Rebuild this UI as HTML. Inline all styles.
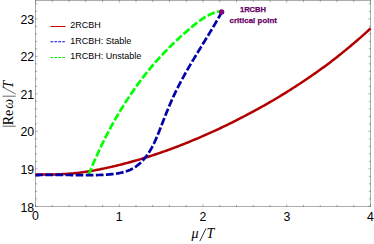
<!DOCTYPE html>
<html><head><meta charset="utf-8"><style>
html,body{margin:0;padding:0;background:#fff;}
svg{display:block;}
text{font-family:"Liberation Sans",sans-serif;}
</style></head><body>
<svg width="374" height="244" viewBox="0 0 374 244">
<rect width="374" height="244" fill="#fff"/>
<rect x="35.5" y="0.5" width="335.0" height="206.0" stroke="#adadad" stroke-width="1" fill="none"/>
<g stroke="#555" stroke-opacity="0.55" stroke-width="0.8" fill="none">
<line x1="35.50" y1="207.0" x2="35.50" y2="204.3"/>
<line x1="35.50" y1="0.0" x2="35.50" y2="2.7"/>
<line x1="52.25" y1="207.0" x2="52.25" y2="204.8"/>
<line x1="52.25" y1="0.0" x2="52.25" y2="2.2"/>
<line x1="69.00" y1="207.0" x2="69.00" y2="204.8"/>
<line x1="69.00" y1="0.0" x2="69.00" y2="2.2"/>
<line x1="85.75" y1="207.0" x2="85.75" y2="204.8"/>
<line x1="85.75" y1="0.0" x2="85.75" y2="2.2"/>
<line x1="102.50" y1="207.0" x2="102.50" y2="204.8"/>
<line x1="102.50" y1="0.0" x2="102.50" y2="2.2"/>
<line x1="119.25" y1="207.0" x2="119.25" y2="204.3"/>
<line x1="119.25" y1="0.0" x2="119.25" y2="2.7"/>
<line x1="136.00" y1="207.0" x2="136.00" y2="204.8"/>
<line x1="136.00" y1="0.0" x2="136.00" y2="2.2"/>
<line x1="152.75" y1="207.0" x2="152.75" y2="204.8"/>
<line x1="152.75" y1="0.0" x2="152.75" y2="2.2"/>
<line x1="169.50" y1="207.0" x2="169.50" y2="204.8"/>
<line x1="169.50" y1="0.0" x2="169.50" y2="2.2"/>
<line x1="186.25" y1="207.0" x2="186.25" y2="204.8"/>
<line x1="186.25" y1="0.0" x2="186.25" y2="2.2"/>
<line x1="203.00" y1="207.0" x2="203.00" y2="204.3"/>
<line x1="203.00" y1="0.0" x2="203.00" y2="2.7"/>
<line x1="219.75" y1="207.0" x2="219.75" y2="204.8"/>
<line x1="219.75" y1="0.0" x2="219.75" y2="2.2"/>
<line x1="236.50" y1="207.0" x2="236.50" y2="204.8"/>
<line x1="236.50" y1="0.0" x2="236.50" y2="2.2"/>
<line x1="253.25" y1="207.0" x2="253.25" y2="204.8"/>
<line x1="253.25" y1="0.0" x2="253.25" y2="2.2"/>
<line x1="270.00" y1="207.0" x2="270.00" y2="204.8"/>
<line x1="270.00" y1="0.0" x2="270.00" y2="2.2"/>
<line x1="286.75" y1="207.0" x2="286.75" y2="204.3"/>
<line x1="286.75" y1="0.0" x2="286.75" y2="2.7"/>
<line x1="303.50" y1="207.0" x2="303.50" y2="204.8"/>
<line x1="303.50" y1="0.0" x2="303.50" y2="2.2"/>
<line x1="320.25" y1="207.0" x2="320.25" y2="204.8"/>
<line x1="320.25" y1="0.0" x2="320.25" y2="2.2"/>
<line x1="337.00" y1="207.0" x2="337.00" y2="204.8"/>
<line x1="337.00" y1="0.0" x2="337.00" y2="2.2"/>
<line x1="353.75" y1="207.0" x2="353.75" y2="204.8"/>
<line x1="353.75" y1="0.0" x2="353.75" y2="2.2"/>
<line x1="370.50" y1="207.0" x2="370.50" y2="204.3"/>
<line x1="370.50" y1="0.0" x2="370.50" y2="2.7"/>
<line x1="35.0" y1="206.35" x2="37.7" y2="206.35"/>
<line x1="371.0" y1="206.35" x2="368.3" y2="206.35"/>
<line x1="35.0" y1="198.85" x2="37.2" y2="198.85"/>
<line x1="371.0" y1="198.85" x2="368.8" y2="198.85"/>
<line x1="35.0" y1="191.35" x2="37.2" y2="191.35"/>
<line x1="371.0" y1="191.35" x2="368.8" y2="191.35"/>
<line x1="35.0" y1="183.85" x2="37.2" y2="183.85"/>
<line x1="371.0" y1="183.85" x2="368.8" y2="183.85"/>
<line x1="35.0" y1="176.35" x2="37.2" y2="176.35"/>
<line x1="371.0" y1="176.35" x2="368.8" y2="176.35"/>
<line x1="35.0" y1="168.85" x2="37.7" y2="168.85"/>
<line x1="371.0" y1="168.85" x2="368.3" y2="168.85"/>
<line x1="35.0" y1="161.35" x2="37.2" y2="161.35"/>
<line x1="371.0" y1="161.35" x2="368.8" y2="161.35"/>
<line x1="35.0" y1="153.85" x2="37.2" y2="153.85"/>
<line x1="371.0" y1="153.85" x2="368.8" y2="153.85"/>
<line x1="35.0" y1="146.35" x2="37.2" y2="146.35"/>
<line x1="371.0" y1="146.35" x2="368.8" y2="146.35"/>
<line x1="35.0" y1="138.85" x2="37.2" y2="138.85"/>
<line x1="371.0" y1="138.85" x2="368.8" y2="138.85"/>
<line x1="35.0" y1="131.35" x2="37.7" y2="131.35"/>
<line x1="371.0" y1="131.35" x2="368.3" y2="131.35"/>
<line x1="35.0" y1="123.85" x2="37.2" y2="123.85"/>
<line x1="371.0" y1="123.85" x2="368.8" y2="123.85"/>
<line x1="35.0" y1="116.35" x2="37.2" y2="116.35"/>
<line x1="371.0" y1="116.35" x2="368.8" y2="116.35"/>
<line x1="35.0" y1="108.85" x2="37.2" y2="108.85"/>
<line x1="371.0" y1="108.85" x2="368.8" y2="108.85"/>
<line x1="35.0" y1="101.35" x2="37.2" y2="101.35"/>
<line x1="371.0" y1="101.35" x2="368.8" y2="101.35"/>
<line x1="35.0" y1="93.85" x2="37.7" y2="93.85"/>
<line x1="371.0" y1="93.85" x2="368.3" y2="93.85"/>
<line x1="35.0" y1="86.35" x2="37.2" y2="86.35"/>
<line x1="371.0" y1="86.35" x2="368.8" y2="86.35"/>
<line x1="35.0" y1="78.85" x2="37.2" y2="78.85"/>
<line x1="371.0" y1="78.85" x2="368.8" y2="78.85"/>
<line x1="35.0" y1="71.35" x2="37.2" y2="71.35"/>
<line x1="371.0" y1="71.35" x2="368.8" y2="71.35"/>
<line x1="35.0" y1="63.85" x2="37.2" y2="63.85"/>
<line x1="371.0" y1="63.85" x2="368.8" y2="63.85"/>
<line x1="35.0" y1="56.35" x2="37.7" y2="56.35"/>
<line x1="371.0" y1="56.35" x2="368.3" y2="56.35"/>
<line x1="35.0" y1="48.85" x2="37.2" y2="48.85"/>
<line x1="371.0" y1="48.85" x2="368.8" y2="48.85"/>
<line x1="35.0" y1="41.35" x2="37.2" y2="41.35"/>
<line x1="371.0" y1="41.35" x2="368.8" y2="41.35"/>
<line x1="35.0" y1="33.85" x2="37.2" y2="33.85"/>
<line x1="371.0" y1="33.85" x2="368.8" y2="33.85"/>
<line x1="35.0" y1="26.35" x2="37.2" y2="26.35"/>
<line x1="371.0" y1="26.35" x2="368.8" y2="26.35"/>
<line x1="35.0" y1="18.85" x2="37.7" y2="18.85"/>
<line x1="371.0" y1="18.85" x2="368.3" y2="18.85"/>
<line x1="35.0" y1="11.35" x2="37.2" y2="11.35"/>
<line x1="371.0" y1="11.35" x2="368.8" y2="11.35"/>
<line x1="35.0" y1="3.85" x2="37.2" y2="3.85"/>
<line x1="371.0" y1="3.85" x2="368.8" y2="3.85"/>
</g>
<g font-size="13" fill="#000"><text transform="translate(119.2,220.8) scale(0.95,1)" text-anchor="middle">1</text><text transform="translate(203.0,220.8) scale(0.95,1)" text-anchor="middle">2</text><text transform="translate(286.8,220.8) scale(0.95,1)" text-anchor="middle">3</text><text transform="translate(370.5,220.8) scale(0.95,1)" text-anchor="middle">4</text><text transform="translate(35.5,220.1) scale(0.95,1)" text-anchor="middle">0</text><text transform="translate(34.2,173.5) scale(0.95,1)" text-anchor="end">19</text><text transform="translate(34.2,136.0) scale(0.95,1)" text-anchor="end">20</text><text transform="translate(34.2,98.5) scale(0.95,1)" text-anchor="end">21</text><text transform="translate(34.2,61.0) scale(0.95,1)" text-anchor="end">22</text><text transform="translate(34.2,23.5) scale(0.95,1)" text-anchor="end">23</text><text transform="translate(34.2,211.8) scale(0.95,1)" text-anchor="end">18</text></g>
<path d="M35.50,174.55 L37.18,174.56 L38.87,174.57 L40.55,174.57 L42.23,174.57 L43.92,174.57 L45.60,174.56 L47.28,174.54 L48.97,174.52 L50.65,174.50 L52.33,174.46 L54.02,174.42 L55.70,174.38 L57.38,174.32 L59.07,174.26 L60.75,174.19 L62.43,174.11 L64.12,174.02 L65.80,173.92 L67.48,173.81 L69.17,173.69 L70.85,173.55 L72.54,173.41 L74.22,173.26 L75.90,173.09 L77.59,172.91 L79.27,172.71 L80.95,172.51 L82.64,172.28 L84.32,172.05 L86.00,171.80 L87.69,171.54 L89.37,171.27 L91.05,170.98 L92.74,170.69 L94.42,170.38 L96.10,170.07 L97.79,169.75 L99.47,169.41 L101.15,169.07 L102.84,168.72 L104.52,168.37 L106.20,168.01 L107.89,167.64 L109.57,167.26 L111.25,166.88 L112.94,166.49 L114.62,166.10 L116.30,165.70 L117.99,165.29 L119.67,164.87 L121.35,164.45 L123.04,164.02 L124.72,163.58 L126.40,163.14 L128.09,162.69 L129.77,162.23 L131.45,161.76 L133.14,161.29 L134.82,160.81 L136.51,160.33 L138.19,159.84 L139.87,159.34 L141.56,158.83 L143.24,158.32 L144.92,157.80 L146.61,157.28 L148.29,156.75 L149.97,156.21 L151.66,155.67 L153.34,155.12 L155.02,154.56 L156.71,154.00 L158.39,153.43 L160.07,152.86 L161.76,152.28 L163.44,151.69 L165.12,151.10 L166.81,150.49 L168.49,149.89 L170.17,149.27 L171.86,148.65 L173.54,148.02 L175.22,147.38 L176.91,146.74 L178.59,146.08 L180.27,145.43 L181.96,144.76 L183.64,144.09 L185.32,143.41 L187.01,142.73 L188.69,142.04 L190.37,141.35 L192.06,140.65 L193.74,139.95 L195.42,139.24 L197.11,138.53 L198.79,137.81 L200.47,137.09 L202.16,136.37 L203.84,135.64 L205.53,134.90 L207.21,134.16 L208.89,133.41 L210.58,132.66 L212.26,131.90 L213.94,131.13 L215.63,130.36 L217.31,129.58 L218.99,128.79 L220.68,128.00 L222.36,127.20 L224.04,126.39 L225.73,125.58 L227.41,124.76 L229.09,123.93 L230.78,123.10 L232.46,122.26 L234.14,121.41 L235.83,120.56 L237.51,119.71 L239.19,118.85 L240.88,117.98 L242.56,117.11 L244.24,116.24 L245.93,115.36 L247.61,114.47 L249.29,113.58 L250.98,112.69 L252.66,111.79 L254.34,110.88 L256.03,109.97 L257.71,109.05 L259.39,108.12 L261.08,107.19 L262.76,106.25 L264.44,105.30 L266.13,104.35 L267.81,103.39 L269.49,102.42 L271.18,101.44 L272.86,100.46 L274.55,99.47 L276.23,98.47 L277.91,97.46 L279.60,96.45 L281.28,95.43 L282.96,94.40 L284.65,93.36 L286.33,92.32 L288.01,91.26 L289.70,90.20 L291.38,89.13 L293.06,88.06 L294.75,86.97 L296.43,85.88 L298.11,84.78 L299.80,83.67 L301.48,82.56 L303.16,81.44 L304.85,80.31 L306.53,79.17 L308.21,78.03 L309.90,76.88 L311.58,75.72 L313.26,74.55 L314.95,73.38 L316.63,72.20 L318.31,71.01 L320.00,69.81 L321.68,68.60 L323.36,67.38 L325.05,66.15 L326.73,64.91 L328.41,63.65 L330.10,62.38 L331.78,61.10 L333.46,59.80 L335.15,58.50 L336.83,57.17 L338.52,55.84 L340.20,54.49 L341.88,53.13 L343.57,51.76 L345.25,50.39 L346.93,49.00 L348.62,47.61 L350.30,46.22 L351.98,44.81 L353.67,43.39 L355.35,41.96 L357.03,40.52 L358.72,39.07 L360.40,37.60 L362.08,36.12 L363.77,34.63 L365.45,33.11 L367.13,31.58 L368.82,30.03 L370.50,28.46" fill="none" stroke="#b20000" stroke-width="2.5"/>
<path d="M88.60,174.83 L89.72,172.09 L90.84,169.38 L91.96,166.71 L93.07,164.09 L94.19,161.50 L95.31,158.96 L96.43,156.45 L97.55,153.98 L98.67,151.54 L99.78,149.15 L100.90,146.78 L102.02,144.45 L103.14,142.16 L104.26,139.90 L105.38,137.66 L106.50,135.47 L107.61,133.30 L108.73,131.16 L109.85,129.05 L110.97,126.97 L112.09,124.92 L113.21,122.90 L114.33,120.90 L115.44,118.93 L116.56,116.99 L117.68,115.07 L118.80,113.18 L119.92,111.31 L121.04,109.46 L122.15,107.64 L123.27,105.84 L124.39,104.07 L125.51,102.31 L126.63,100.58 L127.75,98.87 L128.87,97.18 L129.98,95.50 L131.10,93.85 L132.22,92.22 L133.34,90.61 L134.46,89.01 L135.58,87.44 L136.69,85.88 L137.81,84.34 L138.93,82.81 L140.05,81.31 L141.17,79.82 L142.29,78.34 L143.41,76.88 L144.52,75.44 L145.64,74.01 L146.76,72.60 L147.88,71.21 L149.00,69.83 L150.12,68.46 L151.24,67.13 L152.35,65.81 L153.47,64.50 L154.59,63.21 L155.71,61.93 L156.83,60.67 L157.95,59.42 L159.06,58.18 L160.18,56.96 L161.30,55.75 L162.42,54.55 L163.54,53.37 L164.66,52.20 L165.78,51.04 L166.89,49.90 L168.01,48.77 L169.13,47.65 L170.25,46.55 L171.37,45.46 L172.49,44.36 L173.61,43.25 L174.72,42.15 L175.84,41.07 L176.96,40.00 L178.08,38.94 L179.20,37.90 L180.32,36.87 L181.43,35.86 L182.55,34.86 L183.67,33.87 L184.79,32.90 L185.91,31.94 L187.03,31.00 L188.15,30.07 L189.26,29.16 L190.38,28.24 L191.50,27.28 L192.62,26.34 L193.74,25.41 L194.86,24.50 L195.97,23.61 L197.09,22.74 L198.21,21.88 L199.33,21.04 L200.45,20.22 L201.57,19.41 L202.69,18.63 L203.80,17.92 L204.92,17.26 L206.04,16.61 L207.16,15.99 L208.28,15.38 L209.40,14.80 L210.52,14.24 L211.63,13.70 L212.75,13.25 L213.87,12.86 L214.99,12.49 L216.11,12.15 L217.23,11.83 L218.34,11.60 L219.46,11.53 L220.58,11.48 L221.70,11.47" fill="none" stroke="#00ff00" stroke-width="2.7" stroke-dasharray="7.7 2.4" stroke-dashoffset="0.25"/>
<path d="M35.50,175.18 L36.44,175.14 L37.38,175.10 L38.33,175.06 L39.27,175.03 L40.21,174.99 L41.15,174.97 L42.09,174.94 L43.03,174.92 L43.96,174.90 L44.90,174.88 L45.84,174.86 L46.77,174.85 L47.71,174.84 L48.64,174.83 L49.58,174.83 L50.51,174.82 L51.45,174.82 L52.38,174.82 L53.32,174.82 L54.25,174.82 L55.18,174.83 L56.12,174.83 L57.05,174.84 L57.98,174.85 L58.91,174.86 L59.84,174.87 L60.78,174.88 L61.71,174.89 L62.64,174.90 L63.57,174.92 L64.50,174.93 L65.43,174.95 L66.37,174.96 L67.30,174.98 L68.23,174.99 L69.16,175.01 L70.09,175.02 L71.02,175.04 L71.96,175.05 L72.89,175.07 L73.82,175.08 L74.76,175.10 L75.69,175.11 L76.62,175.12 L77.56,175.14 L78.49,175.15 L79.43,175.16 L80.36,175.17 L81.30,175.17 L82.23,175.18 L83.17,175.19 L84.10,175.19 L85.04,175.19 L85.98,175.19 L86.92,175.19 L87.86,175.19 L88.80,175.18 L89.74,175.18 L90.68,175.17 L91.62,175.16 L92.56,175.14 L93.51,175.13 L94.45,175.11 L95.40,175.09 L96.34,175.06 L97.29,175.04 L98.23,175.01 L99.18,174.98 L100.13,174.94 L101.08,174.90 L102.03,174.86 L102.99,174.82 L103.94,174.77 L104.89,174.72 L105.85,174.66 L106.80,174.60 L107.76,174.53 L108.71,174.46 L109.67,174.39 L110.62,174.30 L111.57,174.21 L112.52,174.11 L113.47,174.00 L114.41,173.89 L115.35,173.76 L116.29,173.63 L117.22,173.48 L118.15,173.32 L119.07,173.15 L119.99,172.97 L120.90,172.78 L121.81,172.57 L122.71,172.35 L123.60,172.12 L124.49,171.87 L125.37,171.60 L126.24,171.32 L127.10,171.02 L127.95,170.71 L128.80,170.38 L129.63,170.03 L130.46,169.66 L131.27,169.27 L132.08,168.86 L132.87,168.44 L133.65,167.99 L134.42,167.52 L135.18,167.03 L135.93,166.53 L136.66,166.00 L137.39,165.46 L138.10,164.90 L138.80,164.32 L139.49,163.73 L140.16,163.12 L140.83,162.50 L141.48,161.86 L142.13,161.21 L142.76,160.54 L143.38,159.87 L143.98,159.18 L144.58,158.47 L145.16,157.76 L145.73,157.04 L146.29,156.30 L146.84,155.56 L147.38,154.80 L147.91,154.04 L148.43,153.26 L148.94,152.48 L149.44,151.69 L149.93,150.89 L150.41,150.08 L150.88,149.27 L151.35,148.45 L151.80,147.62 L152.25,146.78 L152.69,145.94 L153.13,145.10 L153.55,144.24 L153.97,143.38 L154.39,142.52 L154.79,141.65 L155.20,140.78 L155.59,139.91 L155.98,139.03 L156.37,138.15 L156.75,137.26 L157.13,136.37 L157.50,135.48 L157.87,134.59 L158.23,133.70 L158.59,132.80 L158.95,131.91 L159.31,131.01 L159.66,130.11 L160.01,129.22 L160.36,128.32 L160.71,127.43 L161.06,126.53 L161.40,125.64 L161.75,124.75 L162.09,123.86 L162.44,122.97 L162.78,122.09 L163.12,121.21 L163.47,120.33 L163.81,119.45 L164.16,118.57 L164.50,117.70 L164.85,116.82 L165.19,115.95 L165.54,115.08 L165.88,114.21 L166.23,113.35 L166.58,112.48 L166.93,111.62 L167.28,110.76 L167.63,109.90 L167.98,109.04 L168.34,108.18 L168.69,107.33 L169.05,106.47 L169.41,105.62 L169.77,104.77 L170.13,103.92 L170.50,103.07 L170.87,102.22 L171.24,101.38 L171.61,100.53 L171.98,99.69 L172.36,98.85 L172.74,98.00 L173.12,97.16 L173.51,96.32 L173.90,95.49 L174.29,94.65 L174.69,93.81 L175.08,92.98 L175.49,92.14 L175.89,91.31 L176.30,90.48 L176.71,89.65 L177.12,88.82 L177.54,87.99 L177.96,87.16 L178.38,86.33 L178.80,85.51 L179.23,84.68 L179.66,83.85 L180.09,83.03 L180.53,82.21 L180.97,81.38 L181.41,80.56 L181.85,79.74 L182.29,78.92 L182.74,78.10 L183.19,77.28 L183.64,76.46 L184.09,75.65 L184.54,74.83 L185.00,74.01 L185.46,73.20 L185.92,72.38 L186.38,71.57 L186.85,70.75 L187.31,69.94 L187.78,69.13 L188.25,68.32 L188.72,67.50 L189.19,66.69 L189.66,65.88 L190.14,65.07 L190.61,64.26 L191.09,63.45 L191.57,62.65 L192.05,61.84 L192.53,61.03 L193.01,60.22 L193.49,59.42 L193.98,58.61 L194.46,57.80 L194.95,57.00 L195.43,56.19 L195.92,55.39 L196.41,54.58 L196.90,53.78 L197.39,52.97 L197.87,52.17 L198.36,51.37 L198.85,50.56 L199.35,49.76 L199.84,48.96 L200.33,48.15 L200.82,47.35 L201.31,46.55 L201.80,45.75 L202.29,44.94 L202.78,44.14 L203.28,43.34 L203.77,42.54 L204.26,41.74 L204.75,40.94 L205.24,40.13 L205.73,39.33 L206.22,38.53 L206.71,37.73 L207.20,36.93 L207.69,36.13 L208.17,35.33 L208.66,34.52 L209.15,33.72 L209.63,32.92 L210.12,32.12 L210.60,31.32 L211.09,30.52 L211.57,29.71 L212.05,28.91 L212.53,28.11 L213.01,27.31 L213.49,26.50 L213.96,25.70 L214.44,24.90 L214.91,24.09 L215.38,23.29 L215.86,22.49 L216.33,21.68 L216.79,20.88 L217.26,20.07 L217.72,19.27 L218.19,18.46 L218.65,17.66 L219.11,16.85 L219.57,16.05 L220.02,15.24 L220.48,14.43 L220.93,13.63 L221.38,12.82 L221.82,12.01" fill="none" stroke="#0000aa" stroke-width="2.7" stroke-dasharray="7.7 2.4" stroke-dashoffset="0.25"/>
<circle cx="221.7" cy="11.9" r="2.6" fill="#800080"/>
<g font-size="9" fill="#000">
<text x="70.2" y="28">2RCBH</text>
<text x="70.2" y="43.5">1RCBH: Stable</text>
<text x="70.2" y="59">1RCBH: Unstable</text>
</g>
<line x1="50.5" y1="26.5" x2="65.5" y2="26.5" stroke="#cc0000" stroke-width="1"/>
<line x1="50.5" y1="41.75" x2="65.2" y2="41.75" stroke="#0000dd" stroke-width="1" stroke-dasharray="2.7 1.2"/>
<line x1="50.5" y1="57.5" x2="65.5" y2="57.5" stroke="#00ee00" stroke-width="1" stroke-dasharray="2.7 1.2"/>
<g font-size="7.6" font-weight="bold" fill="#660066" stroke="#660066" stroke-width="0.25" text-anchor="middle">
<text x="253" y="12">1RCBH</text>
<text x="253.3" y="23.3" font-size="7.8" letter-spacing="0.08">critical point</text>
</g>
<g fill="#000">
<text x="191.6" y="237.8" font-size="14" style="font-family:'Liberation Serif',serif;font-style:italic">μ</text>
<text x="206.6" y="237.8" font-size="14" style="font-family:'Liberation Serif',serif;font-style:italic">T</text>
<line x1="199.8" y1="241.2" x2="206" y2="228.4" stroke="#000" stroke-width="0.8"/>
<g transform="translate(12.9,0) rotate(-90)" font-size="14" style="font-family:'Liberation Serif',serif">
<text x="-125.2" y="0" style="font-family:'Liberation Serif',serif">R</text>
<text x="-116" y="0" style="font-family:'Liberation Serif',serif">e</text>
<text x="-108.8" y="0" style="font-family:'Liberation Serif',serif;font-style:italic">ω</text>
<text x="-88.5" y="0" style="font-family:'Liberation Serif',serif;font-style:italic">T</text>
</g>
<g stroke="#000" stroke-width="0.6" fill="none">
<line x1="2.5" y1="126.2" x2="15.7" y2="126.2"/>
<line x1="2.5" y1="96.2" x2="15.7" y2="96.2"/>
<line x1="15.7" y1="94" x2="2.3" y2="86.9"/>
</g>
</g>
</svg>
</body></html>
